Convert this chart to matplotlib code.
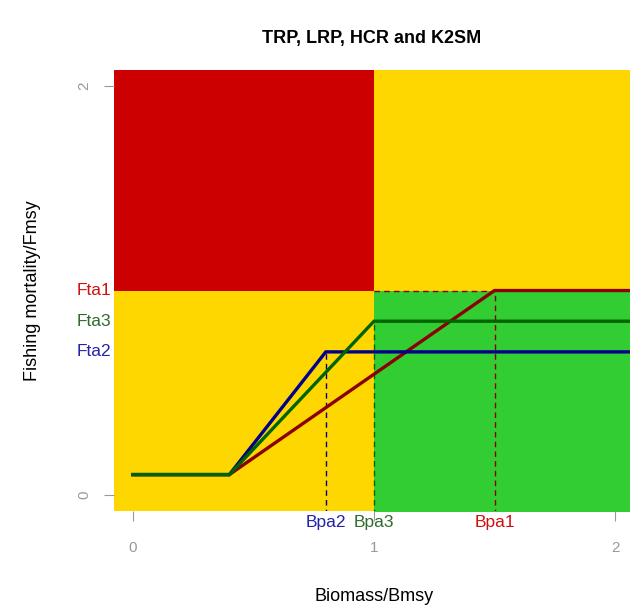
import matplotlib.pyplot as plt

plt.rcParams['font.family'] = ['Liberation Sans', 'DejaVu Sans']

# reference points (relative to Bmsy / Fmsy)
B_MSY = 1.0
F_MSY = 1.0
B_LIM = 0.4
F_MIN = 0.1
X_END = 2.2

RP_NAMES = ["1", "2", "3"]
BPA = [1.5, 0.8, 1.0]
FTA = [1.0, 0.7, 0.85]
LINE_COLORS = ["#8B0000", "#00008B", "#006400"]
LABEL_COLORS = ["#CC1111", "#2222AA", "#2E6B2E"]

XTICKS = [0, 1, 2]
XTICK_LABELS = ["0", "1", "2"]
YTICKS = [0, 2]
YTICK_LABELS = ["0", "2"]


def main():
    fig = plt.figure(figsize=(6.30, 6.11), dpi=100)
    ax = fig.add_axes([113.7 / 630, 0.163, 520.6 / 630, 0.723])
    ax.set_xlim(-0.08, 2.08)
    ax.set_ylim(-0.08, 2.08)

    # kobe-style quadrants
    ax.axvspan(-1, 3, color="#FFD700", lw=0, zorder=0)
    ax.fill_between([-1, B_MSY], F_MSY, 3, color="#CC0000", lw=0, zorder=1)
    ax.fill_between([B_MSY, 3], -1, F_MSY, color="#32CD32", lw=0, zorder=1)

    # harvest control rules
    for i in range(len(BPA)):
        xs = [0, B_LIM, BPA[i], X_END]
        ys = [F_MIN, F_MIN, FTA[i], FTA[i]]
        ax.plot(xs, ys, color=LINE_COLORS[i], lw=2.4, zorder=3 + i,
                solid_joinstyle='miter')
        ax.plot([BPA[i], BPA[i]], [-1, FTA[i]], color=LINE_COLORS[i],
                lw=1, ls=(0, (4, 3)), zorder=2)
        if BPA[i] > B_MSY:
            ax.plot([B_MSY, BPA[i]], [FTA[i], FTA[i]], color=LINE_COLORS[i],
                    lw=1, ls=(0, (4, 3)), zorder=2)

        ax.text(-0.09, FTA[i], "Fta" + RP_NAMES[i], color=LABEL_COLORS[i],
                fontsize=12.5, ha='right', va='center', clip_on=False)
        ax.text(BPA[i], -0.1, "Bpa" + RP_NAMES[i], color=LABEL_COLORS[i],
                fontsize=12.5, ha='center', va='top', clip_on=False)

    for s in ax.spines.values():
        s.set_visible(False)

    ax.set_xticks(XTICKS)
    ax.set_xticklabels(XTICK_LABELS)
    ax.set_yticks(YTICKS)
    ax.set_yticklabels(YTICK_LABELS, rotation=90, va='center')
    ax.tick_params(axis='x', length=7, pad=14, colors='#999999',
                   labelsize=11, direction='out')
    ax.tick_params(axis='y', length=7, pad=9, colors='#999999',
                   labelsize=11, direction='out')

    ax.set_xlabel("Biomass/Bmsy", fontsize=13, labelpad=24)
    ax.set_ylabel("Fishing mortality/Fmsy", fontsize=13, labelpad=26)
    fig.text(372 / 630, 1 - 38 / 611, "TRP, LRP, HCR and K2SM",
             fontsize=13, fontweight='bold', ha='center', va='center')

    plt.savefig("out.png", dpi=100)


if __name__ == "__main__":
    main()
